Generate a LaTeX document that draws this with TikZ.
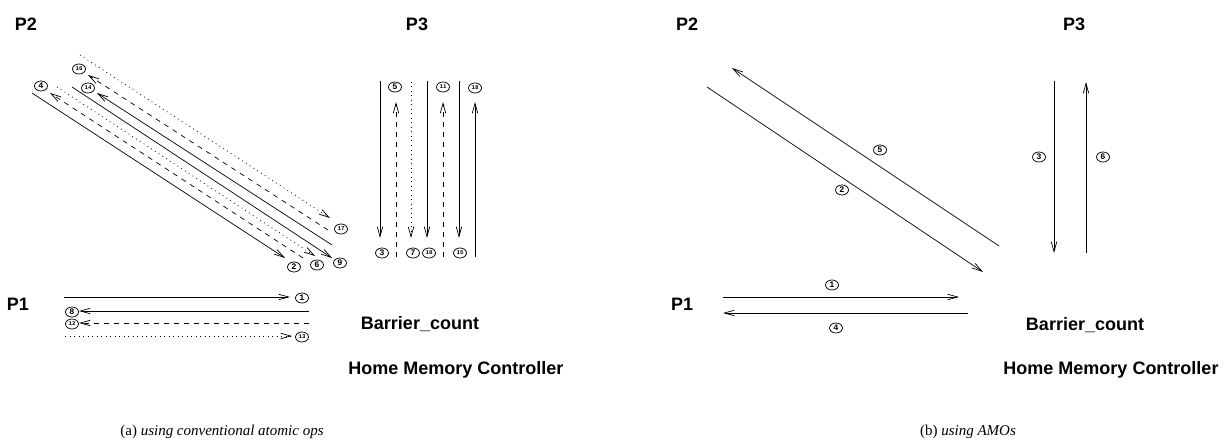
\documentclass[tikz,border=0pt]{standalone}
\usepackage{fontspec}
\setmainfont{Liberation Serif}
\setsansfont{Liberation Sans}
\newfontfamily\numfont{Liberation Mono}
\usetikzlibrary{arrows.meta,shapes.geometric}

\tikzset{
  msg/.style={line width=0.7pt, -{Straight Barb[length=10pt,width=5.5pt,line width=0.7pt]}},
  dashmsg/.style={dash pattern=on 5pt off 5pt},
  dotmsg/.style={dash pattern=on 0.9pt off 3.6pt},
  proc/.style={font=\sffamily\bfseries\fontsize{18}{18}\selectfont, inner sep=0pt},
  caption/.style={font=\fontsize{15}{15}\selectfont, inner sep=0pt},
  tag/.style={ellipse, draw, line width=0.75pt, inner sep=0pt,
              minimum width=13pt, minimum height=10pt,
              font=\numfont\bfseries\fontsize{8.5}{8.5}\selectfont},
  tagsm/.style={tag, font=\numfont\bfseries\fontsize{5.8}{5.8}\selectfont},
}

\begin{document}
\begin{tikzpicture}[x=1pt,y=-1pt]
\useasboundingbox (0,0) rectangle (1228,441);

% ===================== (a) conventional atomic ops =====================
\node[proc] (p2a) at (26,24) {P2};
\node[proc] (p3a) at (417,24) {P3};
\node[proc] (p1a) at (18,304) {P1};
\node[proc] (bca) at (420,324) {Barrier\_count};
\node[proc] (hmca) at (456,370) {Home Memory Controller};
\node[caption] (capa) at (222,432) {(a) \textit{using conventional atomic ops}};

% diagonal traffic between P2 and the home node
\coordinate (a1s) at (32,93);   \coordinate (a1e) at (285,258);
\coordinate (a2s) at (303,258); \coordinate (a2e) at (50,93);
\coordinate (a3s) at (57,87);   \coordinate (a3e) at (315,256);
\coordinate (a4s) at (72,87);   \coordinate (a4e) at (332,258);
\coordinate (a5s) at (332,245); \coordinate (a5e) at (97,93);
\coordinate (a6s) at (328,230); \coordinate (a6e) at (88,75);
\coordinate (a7s) at (80,55);   \coordinate (a7e) at (330,218);
\draw[msg] (a1s) -- (a1e);
\draw[msg,dashmsg] (a2s) -- (a2e);
\draw[msg,dotmsg] (a3s) -- (a3e);
\draw[msg] (a4s) -- (a4e);
\draw[msg] (a5s) -- (a5e);
\draw[msg,dashmsg] (a6s) -- (a6e);
\draw[msg,dotmsg] (a7s) -- (a7e);
\node[tag] (t4a) at (41,86) {4};
\node[tag] (t2a) at (294,267) {2};
\node[tag] (t6a) at (317,265) {6};
\node[tag] (t9a) at (340,263) {9};
\node[tagsm] (t14a) at (88,88) {14};
\node[tagsm] (t16a) at (79,69) {16};
\node[tagsm] (t17a) at (341,229) {17};

% vertical traffic between P3 and the home node
\coordinate (v1s) at (380,81);  \coordinate (v1e) at (380,238);
\coordinate (v2s) at (396,257); \coordinate (v2e) at (396,102);
\coordinate (v3s) at (411,82);  \coordinate (v3e) at (411,238);
\coordinate (v4s) at (427,81);  \coordinate (v4e) at (427,238);
\coordinate (v5s) at (443,257); \coordinate (v5e) at (443,102);
\coordinate (v6s) at (459,81);  \coordinate (v6e) at (459,238);
\coordinate (v7s) at (475,257); \coordinate (v7e) at (475,102);
\draw[msg] (v1s) -- (v1e);
\draw[msg,dashmsg] (v2s) -- (v2e);
\draw[msg,dotmsg] (v3s) -- (v3e);
\draw[msg] (v4s) -- (v4e);
\draw[msg,dashmsg] (v5s) -- (v5e);
\draw[msg] (v6s) -- (v6e);
\draw[msg] (v7s) -- (v7e);
\node[tag] (t3a) at (382,253) {3};
\node[tag] (t5a) at (395,87) {5};
\node[tag] (t7a) at (413,253) {7};
\node[tagsm] (t10a) at (429,253) {10};
\node[tagsm] (t11a) at (443,87) {11};
\node[tagsm] (t15a) at (460,253) {15};
\node[tagsm] (t18a) at (475,88) {18};

% horizontal traffic between P1 and the home node
\coordinate (h1s) at (64,297);  \coordinate (h1e) at (290,297);
\coordinate (h2s) at (309,311); \coordinate (h2e) at (79,311);
\coordinate (h3s) at (309,323); \coordinate (h3e) at (79,323);
\coordinate (h4s) at (65,336);  \coordinate (h4e) at (292,336);
\draw[msg] (h1s) -- (h1e);
\draw[msg] (h2s) -- (h2e);
\draw[msg,dashmsg] (h3s) -- (h3e);
\draw[msg,dotmsg] (h4s) -- (h4e);
\node[tag] (t1a) at (302,298) {1};
\node[tag] (t8a) at (72,312) {8};
\node[tagsm] (t12a) at (72,324) {12};
\node[tagsm] (t13a) at (302,337) {13};

% ===================== (b) AMOs =====================
\node[proc] (p2b) at (687,24) {P2};
\node[proc] (p3b) at (1074,24) {P3};
\node[proc] (p1b) at (682,304) {P1};
\node[proc] (bcb) at (1085,325) {Barrier\_count};
\node[proc] (hmcb) at (1111,370) {Home Memory Controller};
\node[caption] (capb) at (968,432) {(b) \textit{using AMOs}};

\coordinate (b2s) at (707,87);  \coordinate (b2e) at (983,272);
\coordinate (b5s) at (999,246); \coordinate (b5e) at (732,68);
\coordinate (b3s) at (1054,81); \coordinate (b3e) at (1054,253);
\coordinate (b6s) at (1086,253);\coordinate (b6e) at (1086,82);
\coordinate (b1s) at (723,297); \coordinate (b1e) at (959,297);
\coordinate (b4s) at (968,313); \coordinate (b4e) at (723,313);
\draw[msg] (b2s) -- (b2e);
\draw[msg] (b5s) -- (b5e);
\draw[msg] (b3s) -- (b3e);
\draw[msg] (b6s) -- (b6e);
\draw[msg] (b1s) -- (b1e);
\draw[msg] (b4s) -- (b4e);
\node[tag] (t2b) at (842,190) {2};
\node[tag] (t5b) at (880,150) {5};
\node[tag] (t3b) at (1039,157) {3};
\node[tag] (t6b) at (1103,157) {6};
\node[tag] (t1b) at (832,285) {1};
\node[tag] (t4b) at (836,328) {4};
\end{tikzpicture}
\end{document}
